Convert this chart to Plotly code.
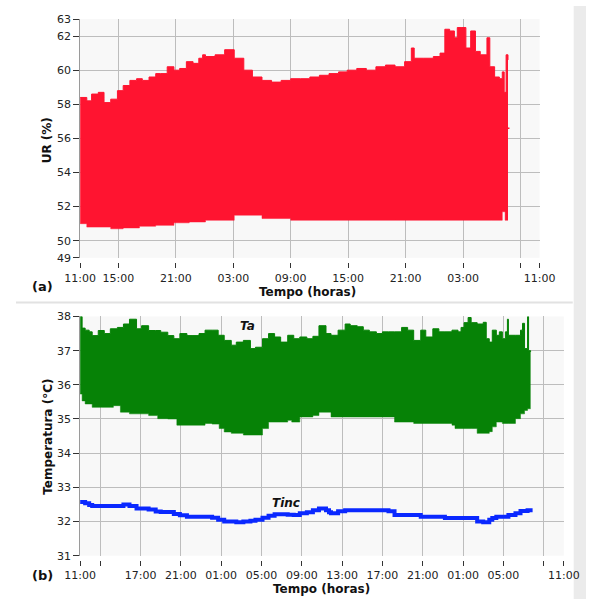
import plotly.graph_objects as go

# ---------------- data (hours since 11:00 of day 1) ----------------
ur_hi_h = [0, 0.7, 1.2, 1.9, 2.5, 3.2, 3.9, 4.5, 5.2, 5.9, 6.5, 7.2, 7.9, 8.4, 9.1, 9.8,
           10.4, 11.1, 11.8, 12.4, 12.8, 13.1, 14.1, 15.1, 16.1, 17.1, 18.0, 19.0, 20.0,
           21.0, 22.0, 23.0, 24.0, 25.0, 26.0, 27.0, 27.9, 28.9, 29.9, 30.9, 31.9, 32.9,
           33.9, 34.6, 34.9, 35.9, 36.9, 37.6, 38.1, 38.6, 39.1, 39.4, 39.8, 40.3, 40.8,
           41.3, 41.8, 42.5, 42.8, 43.3, 43.8, 44.1, 44.3, 44.5, 44.7]
ur_hi = [58.4, 58.2, 58.6, 58.7, 58.1, 58.3, 58.8, 59.1, 59.4, 59.5, 59.4, 59.6, 59.8, 59.8,
         60.2, 60.0, 60.1, 60.5, 60.4, 60.7, 60.9, 60.8, 60.9, 61.2, 60.7, 60.0, 59.6, 59.4,
         59.3, 59.4, 59.5, 59.5, 59.6, 59.7, 59.8, 59.9, 60.0, 60.1, 60.0, 60.2, 60.3, 60.2,
         60.5, 61.3, 60.7, 60.7, 60.8, 61.0, 62.4, 62.3, 61.9, 62.5, 62.5, 61.3, 62.3, 61.1,
         60.9, 61.9, 60.2, 59.6, 59.5, 59.9, 58.7, 60.9, 60.6]
ur_lo_h = [0, 0.7, 3.2, 3.9, 4.5, 6.2, 7.9, 9.8, 11.4, 13.1, 16.1, 19.0, 22.0, 27.0, 32.9,
           38.0, 43.0, 44.1, 44.4, 44.7]
ur_lo = [51.0, 50.8, 50.7, 50.7, 50.75, 50.85, 50.9, 51.05, 51.1, 51.2, 51.5, 51.3, 51.2,
         51.2, 51.2, 51.2, 51.2, 51.7, 51.2, 51.2]
ur_tail_h = [44.7, 44.85]
ur_tail = [56.6, 56.6]

ta_hi_h = [0, 0.2, 0.5, 0.9, 1.2, 1.8, 2.4, 3.0, 3.7, 4.3, 4.9, 5.6, 6.1, 6.8, 7.5, 8.0, 8.7,
           9.3, 9.9, 10.6, 11.2, 11.8, 12.4, 13.1, 13.7, 14.3, 15.0, 15.5, 16.2, 16.9, 17.4,
           18.1, 18.7, 19.3, 19.9, 20.6, 21.2, 21.8, 22.5, 23.1, 23.7, 24.4, 24.9, 25.6,
           26.3, 26.8, 27.5, 28.1, 28.7, 29.4, 30.0, 30.6, 31.2, 31.9, 32.5, 33.1, 33.8,
           34.3, 35.0, 35.6, 36.2, 36.9, 37.5, 37.8, 38.1, 38.5, 38.8, 39.4, 40.0, 40.3,
           40.6, 40.9, 41.3, 41.6, 41.9, 42.2, 42.4, 42.5, 43.2, 43.7, 43.9, 44.1, 44.4,
           44.5, 44.7]
ta_hi = [38.0, 37.66, 37.6, 37.55, 37.44, 37.59, 37.5, 37.64, 37.68, 37.78, 37.92, 37.64,
         37.73, 37.59, 37.59, 37.54, 37.44, 37.35, 37.5, 37.44, 37.44, 37.5, 37.6, 37.6,
         37.45, 37.3, 37.16, 37.25, 37.3, 37.06, 37.1, 37.35, 37.5, 37.4, 37.25, 37.45,
         37.35, 37.4, 37.35, 37.42, 37.73, 37.5, 37.45, 37.6, 37.78, 37.73, 37.7, 37.6,
         37.55, 37.5, 37.55, 37.55, 37.55, 37.68, 37.6, 37.3, 37.6, 37.4, 37.64, 37.55,
         37.55, 37.6, 37.55, 37.68, 37.82, 37.97, 37.82, 37.78, 37.83, 37.35, 37.25, 37.6,
         37.45, 37.55, 37.35, 37.55, 37.92, 37.45, 37.45, 37.6, 37.8, 37.06, 38.0, 37.0,
         36.96]
ta_lo_h = [0, 0.2, 0.5, 1.2, 2.1, 3.0, 3.3, 4.0, 4.9, 5.9, 6.8, 7.7, 8.7, 9.6, 10.6, 11.5,
           12.4, 13.1, 13.8, 14.3, 15.0, 16.2, 17.7, 18.1, 18.7, 20.6, 21.0, 21.8, 23.1,
           23.7, 24.4, 24.9, 26.8, 28.7, 31.2, 33.1, 36.2, 36.9, 37.2, 38.8, 39.4, 40.6,
           40.9, 41.3, 41.9, 42.5, 43.2, 43.7, 44.1, 44.4, 44.7]
ta_lo = [35.73, 35.53, 35.44, 35.34, 35.34, 35.34, 35.39, 35.2, 35.15, 35.15, 35.1, 35.01,
         35.0, 34.82, 34.82, 34.82, 34.87, 34.85, 34.72, 34.62, 34.58, 34.53, 34.53, 34.72,
         34.91, 34.96, 34.91, 35.06, 35.1, 35.2, 35.2, 35.06, 35.06, 35.06, 34.91, 34.87,
         34.87, 34.82, 34.72, 34.72, 34.58, 34.63, 34.77, 34.91, 34.87, 34.87, 35.01,
         35.15, 35.25, 35.3, 35.3]

tinc_h = [0, 0.5, 0.9, 1.2, 3.7, 4.3, 4.9, 5.6, 6.1, 6.8, 7.5, 8.0, 8.7, 9.3, 9.9, 10.6,
          12.4, 13.1, 13.7, 14.3, 15.5, 16.2, 16.9, 17.4, 18.1, 18.7, 19.3, 20.6, 21.2,
          21.8, 22.5, 23.1, 23.7, 24.4, 24.7, 24.9, 25.6, 26.3, 30.6, 31.2, 33.8, 36.2,
          38.1, 38.8, 39.4, 40.0, 40.6, 40.9, 41.3, 42.5, 43.2, 43.7, 44.4, 44.9]
tinc = [32.57, 32.53, 32.48, 32.45, 32.45, 32.5, 32.45, 32.38, 32.38, 32.35, 32.29, 32.28,
        32.28, 32.22, 32.18, 32.14, 32.14, 32.11, 32.05, 32.0, 31.98, 32.0, 32.02, 32.05,
        32.11, 32.17, 32.21, 32.2, 32.19, 32.24, 32.27, 32.33, 32.38, 32.33, 32.27, 32.24,
        32.3, 32.33, 32.3, 32.19, 32.14, 32.1, 32.1, 32.1, 32.0, 31.98, 32.05, 32.1, 32.14,
        32.19, 32.24, 32.31, 32.33, 32.33]

top_tickvals = [0, 4, 10, 16, 22, 28, 34, 40, 46, 48]
top_ticktext = ["11:00", "15:00", "21:00", "03:00", "09:00", "15:00", "21:00", "03:00", "", "11:00"]
bot_tickvals = [0, 2, 6, 10, 14, 18, 22, 26, 30, 34, 38, 42, 46, 48]
bot_ticktext = ["11:00", "", "17:00", "21:00", "01:00", "05:00", "09:00", "13:00", "17:00",
                "21:00", "01:00", "05:00", "", "11:00"]
ur_ticks = [49, 50, 52, 54, 56, 58, 60, 62, 63]
t_ticks = [31, 32, 33, 34, 35, 36, 37, 38]

# ---------------- figure ----------------
W, H = 602, 606
RED = "#ff1430"
GREEN = "#068206"
BLUE = "#0a28ff"
FONT = "DejaVu Sans"

def px(x):
    return x / W

def py(y):
    return 1 - y / H

fig = go.Figure()

fig.add_trace(go.Scatter(x=ur_lo_h, y=ur_lo, mode="lines", line=dict(width=0.5, color=RED, shape="hv"),
                         xaxis="x", yaxis="y", showlegend=False, hoverinfo="skip"))
fig.add_trace(go.Scatter(x=ur_hi_h, y=ur_hi, mode="lines", line=dict(width=1, color=RED, shape="hv"),
                         fill="tonexty", fillcolor=RED, xaxis="x", yaxis="y", showlegend=False))
fig.add_trace(go.Scatter(x=ur_tail_h, y=ur_tail, mode="lines", line=dict(width=1.5, color=RED),
                         xaxis="x", yaxis="y", showlegend=False))

fig.add_trace(go.Scatter(x=ta_lo_h, y=ta_lo, mode="lines", line=dict(width=0.5, color=GREEN, shape="hv"),
                         xaxis="x2", yaxis="y2", showlegend=False, hoverinfo="skip"))
fig.add_trace(go.Scatter(x=ta_hi_h, y=ta_hi, mode="lines", line=dict(width=1, color=GREEN, shape="hv"),
                         fill="tonexty", fillcolor=GREEN, xaxis="x2", yaxis="y2", showlegend=False))
fig.add_trace(go.Scatter(x=tinc_h, y=tinc, mode="lines", line=dict(width=4, color=BLUE, shape="hv"),
                         xaxis="x2", yaxis="y2", showlegend=False))

tickfont = dict(family=FONT, size=11, color="#222")
grid = "#bdbdbd"

common_x = dict(range=[0, 48], showgrid=True, gridcolor=grid, gridwidth=1.2, zeroline=False,
                showline=False, ticks="outside", ticklen=5, tickcolor="#333", tickwidth=1,
                tickfont=tickfont, tickangle=0, anchor="free")
common_y = dict(showgrid=True, gridcolor=grid, gridwidth=1.2, zeroline=False, showline=True,
                linecolor="#9a9a9a", linewidth=1, ticks="outside", ticklen=6, tickcolor="#333",
                tickwidth=1, tickfont=tickfont)

fig.update_layout(
    width=W, height=H, margin=dict(l=0, r=0, t=0, b=0),
    paper_bgcolor="white", plot_bgcolor="#f8f8f8",
    xaxis=dict(common_x, domain=[px(67.7), px(553)], position=py(262),
               tickvals=top_tickvals, ticktext=top_ticktext),
    yaxis=dict(common_y, domain=[py(257.3), py(13.3)], range=[49, 63], tickvals=ur_ticks,
               anchor="x"),
    xaxis2=dict(common_x, domain=[px(67.7), px(578.6)], position=py(566),
                tickvals=bot_tickvals, ticktext=bot_ticktext),
    yaxis2=dict(common_y, domain=[py(561.7), py(317.3)], range=[31, 38], tickvals=t_ticks,
                anchor="x2"),
    font=dict(family=FONT),
)

ann = [
    dict(text="UR (%)", x=px(33), y=py(137), textangle=-90),
    dict(text="Tempo (horas)", x=px(308), y=py(292)),
    dict(text="Temperatura (°C)", x=px(33), y=py(440), textangle=-90),
    dict(text="Tempo (horas)", x=px(323), y=py(596)),
]
for a in ann:
    fig.add_annotation(xref="paper", yref="paper", showarrow=False,
                       font=dict(family=FONT, size=12, color="#111"),
                       xanchor="center", yanchor="middle", **{**a, "text": "<b>" + a["text"] + "</b>"})

fig.add_annotation(xref="paper", yref="paper", x=px(15), y=py(287), text="<b>(a)</b>", showarrow=False,
                   font=dict(family=FONT, size=13, color="#111"))
fig.add_annotation(xref="paper", yref="paper", x=px(15), y=py(592), text="<b>(b)</b>", showarrow=False,
                   font=dict(family=FONT, size=13, color="#111"))
fig.add_annotation(xref="x2", yref="y2", x=16.6, y=37.72, text="<b><i>Ta</i></b>", showarrow=False,
                   font=dict(family=FONT, size=12, color="#111"))
fig.add_annotation(xref="x2", yref="y2", x=20.4, y=32.55, text="<b><i>Tinc</i></b>", showarrow=False,
                   font=dict(family=FONT, size=12, color="#111"))

# panel separator and right-hand shaded band
fig.add_shape(type="line", xref="paper", yref="paper", x0=0, x1=px(588), y0=py(303), y1=py(303),
              line=dict(color="#e2e2e2", width=2))
fig.add_shape(type="rect", xref="paper", yref="paper", x0=px(589), x1=1, y0=0, y1=1,
              line=dict(width=0), fillcolor="#ebebeb", layer="below")

fig.write_html("out.html")
